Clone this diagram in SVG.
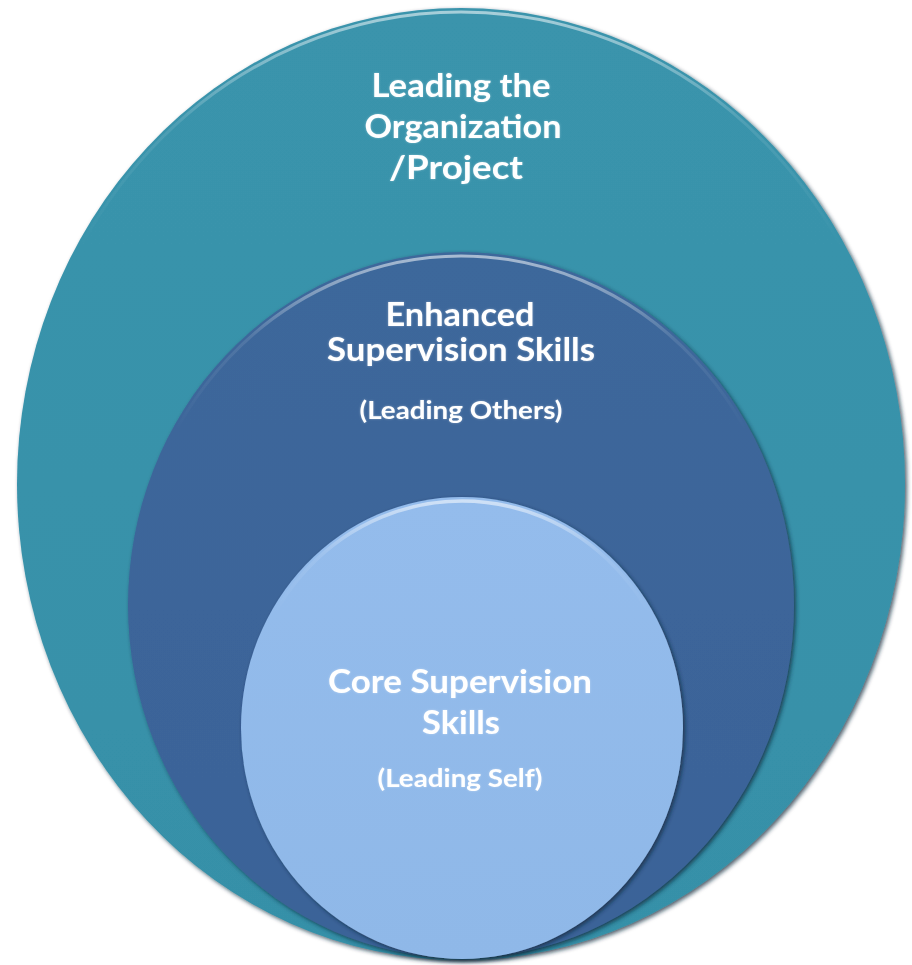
<svg xmlns="http://www.w3.org/2000/svg" width="912" height="965" viewBox="0 0 912 965">
<style>
.t{font-family:Lato,"Open Sans","Liberation Sans",sans-serif;font-weight:bold;fill:#ffffff;text-anchor:middle}
.h{font-size:32px}
.s{font-size:24px}
</style>
<defs>
<filter id="sh" x="-5%" y="-5%" width="110%" height="110%">
<feDropShadow dx="2" dy="2" stdDeviation="2" flood-color="#0b2a3a" flood-opacity="0.75"/>
</filter>
<filter id="tg" x="-10%" y="-30%" width="120%" height="160%">
<feDropShadow dx="0" dy="0" stdDeviation="1.2" flood-color="#ffffff" flood-opacity="0.35"/>
</filter>
<linearGradient id="hl" x1="0" y1="0" x2="0" y2="1">
<stop offset="0" stop-color="#ffffff" stop-opacity="0.55"/>
<stop offset="0.12" stop-color="#ffffff" stop-opacity="0.1"/>
<stop offset="0.25" stop-color="#ffffff" stop-opacity="0"/>
</linearGradient>
<linearGradient id="gOuter" x1="0" y1="0" x2="0" y2="1">
<stop offset="0" stop-color="#3a94ac"/>
<stop offset="1" stop-color="#3690a8"/>
</linearGradient>
<linearGradient id="gMid" x1="0" y1="0" x2="0" y2="1">
<stop offset="0" stop-color="#3e679b"/>
<stop offset="1" stop-color="#3a6398"/>
</linearGradient>
<linearGradient id="gIn" x1="0" y1="0" x2="0" y2="1">
<stop offset="0" stop-color="#94bcec"/>
<stop offset="1" stop-color="#8fb8e8"/>
</linearGradient>
</defs>
<g id="outer">
<ellipse cx="461" cy="484" rx="444" ry="476" fill="url(#gOuter)" filter="url(#sh)"/>
<ellipse cx="461" cy="484" rx="440" ry="472" fill="none" stroke="url(#hl)" stroke-width="3"/>
<text class="t h" filter="url(#tg)"><tspan x="461" y="97" textLength="179" lengthAdjust="spacingAndGlyphs">Leading the</tspan><tspan x="463" y="138" textLength="197" lengthAdjust="spacingAndGlyphs">Organization</tspan><tspan x="456" y="179" textLength="134" lengthAdjust="spacingAndGlyphs">/Project</tspan></text>
</g>
<g id="middle">
<ellipse cx="461" cy="605" rx="333" ry="353" fill="url(#gMid)" filter="url(#sh)"/>
<ellipse cx="461" cy="605" rx="329" ry="349" fill="none" stroke="url(#hl)" stroke-width="3"/>
<text class="t h" filter="url(#tg)"><tspan x="460" y="326" textLength="149" lengthAdjust="spacingAndGlyphs">Enhanced</tspan><tspan x="461" y="361" textLength="268" lengthAdjust="spacingAndGlyphs">Supervision Skills</tspan></text>
<text class="t s" x="461" y="419" textLength="203" lengthAdjust="spacingAndGlyphs" filter="url(#tg)">(Leading Others)</text>
</g>
<g id="inner">
<ellipse cx="462" cy="728" rx="221" ry="231" fill="url(#gIn)" filter="url(#sh)"/>
<ellipse cx="462" cy="728" rx="217" ry="227" fill="none" stroke="url(#hl)" stroke-width="3.5"/>
<text class="t h" filter="url(#tg)"><tspan x="460" y="693" textLength="264" lengthAdjust="spacingAndGlyphs">Core Supervision</tspan><tspan x="461" y="734" textLength="78" lengthAdjust="spacingAndGlyphs">Skills</tspan></text>
<text class="t s" x="460" y="787" textLength="165" lengthAdjust="spacingAndGlyphs" filter="url(#tg)">(Leading Self)</text>
</g>
</svg>
